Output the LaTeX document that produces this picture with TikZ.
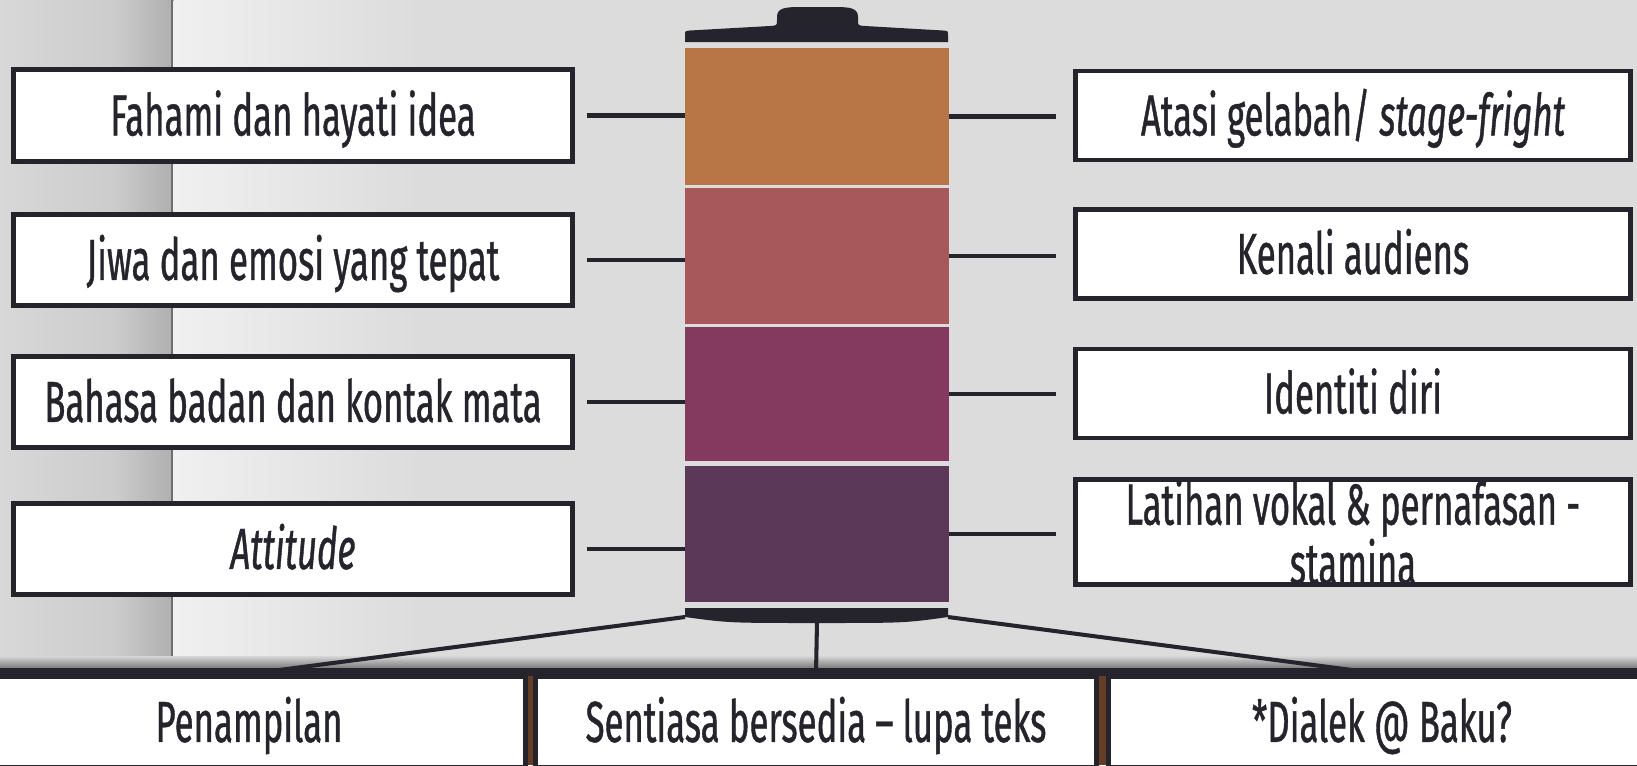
\documentclass[tikz,border=0pt]{standalone}
\usepackage{fontspec}
\setmainfont{Fira Sans}[FakeStretch=0.6, FakeBold=0.7]
\usetikzlibrary{positioning}
\definecolor{inkdark}{RGB}{37,35,43}
\definecolor{battA}{RGB}{184,117,69}
\definecolor{battB}{RGB}{166,88,90}
\definecolor{battC}{RGB}{132,58,94}
\definecolor{battD}{RGB}{91,56,88}
\definecolor{wallgrey}{RGB}{220,220,220}
\definecolor{wallhi}{RGB}{240,240,240}
\definecolor{wallshadeA}{RGB}{216,216,216}
\definecolor{wallshadeM}{RGB}{204,204,204}
\definecolor{wallshadeB}{RGB}{176,176,176}
\definecolor{wallline}{RGB}{110,110,110}
\definecolor{shelfhi}{RGB}{214,214,214}
\definecolor{shelflo}{RGB}{124,124,124}
\definecolor{woodbrown}{RGB}{100,62,36}
\tikzset{
  lbox/.style={rectangle, draw=inkdark, fill=white, line width=2.6pt,
               minimum width=11.18cm, minimum height=1.83cm, inner sep=0pt,
               text=inkdark, font=\fontsize{33}{28}\selectfont,
               text height=22.7pt, text depth=0pt},
  rbox/.style={lbox, minimum width=11.11cm, minimum height=1.78cm},
  pbox/.style={lbox, minimum height=1.83cm},
  cell/.style={rectangle, inner sep=0pt, minimum width=5.28cm},
  conn/.style={inkdark, line width=2.8pt},
  fan/.style={inkdark, line width=2.3pt},
}
\begin{document}
\begin{tikzpicture}[x=0.02cm, y=-0.02cm]
  \useasboundingbox (0,0) rectangle (1637,765);
  % wall and shelf
  \fill[wallgrey] (0,0) rectangle (1637,765);
  \shade[left color=wallshadeA, right color=wallshadeM] (0,0) rectangle (115,660);
  \shade[left color=wallshadeM, right color=wallshadeB] (115,0) rectangle (171,660);
  \fill[wallline] (171,0) rectangle (173.5,660);
  \shade[left color=wallhi, right color=wallgrey] (173.5,0) rectangle (420,660);
  \shade[top color=shelfhi, bottom color=shelflo] (0,656) rectangle (1637,668);
  \fill[inkdark] (0,668) rectangle (1637,676);
  \fill[woodbrown] (0,676) rectangle (1637,765);

  % battery
  \fill[inkdark] (685,42) -- (685,35) .. controls (685,31) .. (690,30.5)
    -- (770,26) .. controls (777,25.5) .. (777,20) -- (777,17)
    .. controls (777,8) and (785,7) .. (800,7) -- (835,7)
    .. controls (850,7) and (858,8) .. (858,17) -- (858,20)
    .. controls (858,25.5) .. (865,26) -- (943,30.5)
    .. controls (948,31) .. (948,35) -- (948,42) -- cycle;
  \foreach \n/\y/\h/\c in {1/116.5/2.74/battA, 2/256/2.72/battB,
                           3/394/2.68/battC, 4/534/2.72/battD}
    \node[cell, fill=\c, minimum height=\h cm] (c\n) at (817,\y) {};
  \fill[inkdark] (685,608) -- (948,608) -- (948,617)
    .. controls (905,623) .. (817,623) .. controls (729,623) .. (685,617) -- cycle;
  \coordinate (baseL) at (685,617);
  \coordinate (baseM) at (817,622);
  \coordinate (baseR) at (948,617);

  % side boxes
  \node[lbox] (lb1) at (293,115.5) {Fahami dan hayati idea};
  \node[lbox] (lb2) at (293,260) {Jiwa dan emosi yang tepat};
  \node[lbox] (lb3) at (293,402) {Bahasa badan dan kontak mata};
  \node[lbox] (lb4) at (293,549) {\textit{Attitude}};
  \node[rbox] (rb1) at (1353,115.5) {Atasi gelabah/ \textit{stage-fright}};
  \node[rbox] (rb2) at (1353,254) {Kenali audiens};
  \node[rbox] (rb3) at (1353,393.5) {Identiti diri};
  \node[rbox, align=center, text height={}, text depth={}] (rb4) at (1353,532)
    {Latihan vokal \& pernafasan -\\ stamina};
  \foreach \n in {1,...,4} {
    \draw[conn, shorten <=0.24cm] (lb\n.east) -- (lb\n.east -| c\n.west);
    \draw[conn, shorten >=0.34cm] (c\n.east) -- (c\n.east -| rb\n.west);
  }

  % bottom row
  \node[pbox, minimum width=11.07cm] (pb1) at (249,722) {Penampilan};
  \node[pbox, minimum width=11.23cm] (pb2) at (816,722) {Sentiasa bersedia – lupa teks};
  \node[pbox, minimum width=10.95cm] (pb3) at (1382,722) {*Dialek @ Baku?};
  \draw[fan] (baseL) -- (pb1.north);
  \draw[fan] (baseM) -- (pb2.north);
  \draw[fan] (baseR) -- (pb3.north);
\end{tikzpicture}
\end{document}
